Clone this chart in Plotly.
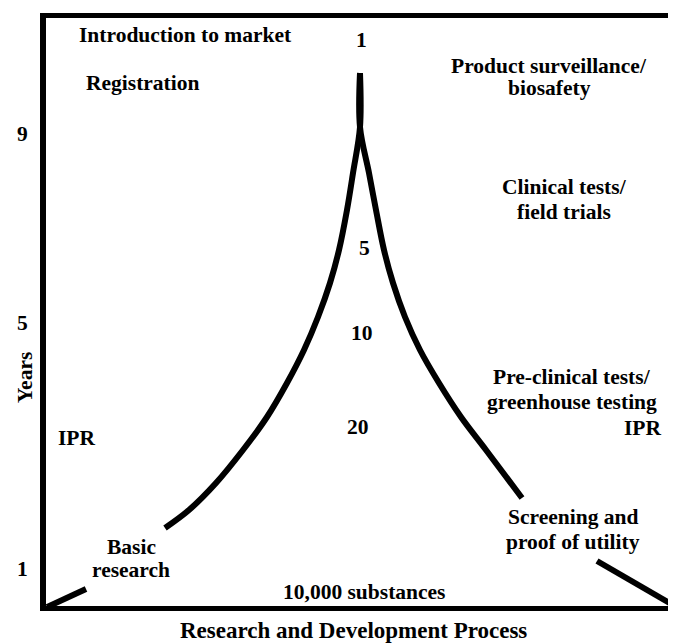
import plotly.graph_objects as go

# ---- data (x: position along the R&D process, y: height on the time scale) ----
left_branch_x = [360, 360, 353, 347, 339, 330, 318, 304, 287, 267, 243, 216, 189, 165]
left_branch_y = [536, 482, 436, 399, 359, 326, 292, 259, 226, 192, 159, 126, 99, 81]

right_branch_x = [360, 360, 369, 376, 384, 393, 405, 420, 439, 461, 486, 522]
right_branch_y = [536, 482, 436, 399, 359, 326, 292, 259, 226, 192, 159, 111]

basic_x = [47, 86]
basic_y = [2, 20]

screen_x = [597, 635, 673]
screen_y = [48, 26, 4]

year_tick_vals = [41, 287, 476]
year_tick_text = ["1", "5", "9"]

count_labels = ["1", "5", "10", "20", "10,000 substances"]
count_x = [361, 364, 362, 358, 364]
count_y = [569, 361, 276, 182, 17]

stage_labels = [
    "Introduction to market",
    "Registration",
    "Product surveillance/",
    "biosafety",
    "Clinical tests/",
    "field trials",
    "Pre-clinical tests/",
    "greenhouse testing",
    "IPR",
    "IPR",
    "Screening and",
    "proof of utility",
    "Basic",
    "research",
]
stage_x = [185, 142, 549, 549, 564, 564, 572, 572, 643, 77, 573, 573, 131, 131]
stage_y = [574, 526, 543, 521, 422, 397, 232, 207, 181, 171, 92, 67, 62, 39]

FONT = "Liberation Serif"
SIZE = 21.5

fig = go.Figure()
line_style = dict(color="black", width=6)
for xs, ys in [(left_branch_x, left_branch_y), (right_branch_x, right_branch_y),
               (basic_x, basic_y), (screen_x, screen_y)]:
    fig.add_trace(go.Scatter(x=xs, y=ys, mode="lines",
                             line=dict(shape="spline", smoothing=1.0, **line_style),
                             hoverinfo="skip", showlegend=False))

for t, x, y in zip(count_labels + stage_labels, count_x + stage_x, count_y + stage_y):
    fig.add_annotation(x=x, y=y, text=t, showarrow=False, xanchor="center", yanchor="middle",
                       font=dict(family=FONT, size=SIZE, color="black", weight="bold"))

# axis titles
fig.add_annotation(xref="paper", yref="y", x=-0.0333, y=231, text="Years", textangle=-90,
                   showarrow=False, xanchor="center", yanchor="middle",
                   font=dict(family=FONT, size=SIZE, color="black", weight="bold"))
fig.add_annotation(xref="x", yref="paper", x=353, y=-0.041, text="Research and Development Process",
                   showarrow=False, xanchor="center", yanchor="middle",
                   font=dict(family=FONT, size=23, color="black", weight="bold"))

fig.update_layout(
    width=668, height=635,
    margin=dict(l=38, r=0, t=10, b=37),
    paper_bgcolor="white", plot_bgcolor="white",
    xaxis=dict(range=[46, 676], showgrid=False, zeroline=False, showticklabels=False,
               showline=True, linecolor="black", linewidth=5, mirror=True, ticks=""),
    yaxis=dict(range=[3, 591], showgrid=False, zeroline=False,
               tickvals=year_tick_vals, ticktext=year_tick_text, ticks="",
               ticklabelstandoff=8,
               tickfont=dict(family=FONT, size=SIZE, color="black", weight="bold"),
               showline=True, linecolor="black", linewidth=6),
)

fig.write_html("out.html")
